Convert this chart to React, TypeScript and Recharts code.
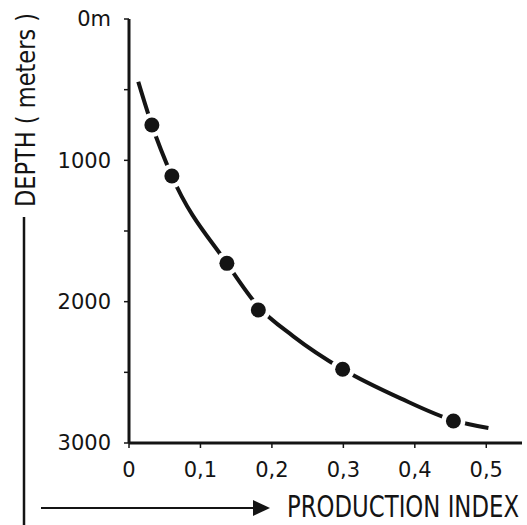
import React from "react";
import { ComposedChart, Line, Scatter, XAxis, YAxis } from "recharts";

// Measured data points (production index vs depth in meters)
const pointIndex = [0.032, 0.06, 0.137, 0.181, 0.299, 0.454];
const pointDepth = [750, 1111, 1729, 2059, 2478, 2844];

// Fitted curve
const curveIndex = [0.013, 0.032, 0.06, 0.137, 0.181, 0.23, 0.299, 0.38, 0.454, 0.503];
const curveDepth = [444, 750, 1111, 1729, 2035, 2245, 2478, 2684, 2840, 2894];

const xTicks = [0, 0.1, 0.2, 0.3, 0.4, 0.5];
const xTickLabels = ["0", "0,1", "0,2", "0,3", "0,4", "0,5"];
const yTicks = [0, 500, 1000, 1500, 2000, 2500, 3000];
const yTickLabels = ["0m", "", "1000", "", "2000", "", "3000"];

const xTitle = "PRODUCTION INDEX";
const yTitle = "DEPTH ( meters )";

const points = pointIndex.map((x, i) => ({ x, y: pointDepth[i] }));
const curve = curveIndex.map((x, i) => ({ x, y: curveDepth[i] }));

const INK = "#141414";
const FONT = "'DejaVu Sans', sans-serif";

const Dot = (props: any) => {
  const { cx, cy } = props;
  if (cx == null || cy == null) return null;
  return (
    <g>
      <circle cx={cx} cy={cy} r={12} fill="#fff" />
      <circle cx={cx} cy={cy} r={7.5} fill={INK} />
    </g>
  );
};

const XTitle = (props: any) => {
  const vb = props.viewBox || { x: 129, y: 443, width: 393, height: 82 };
  const y = vb.y + 65;
  const s = 0.77;
  return (
    <g>
      <line x1={41} y1={y} x2={255} y2={y} stroke={INK} strokeWidth={2} />
      <polygon points={`${253},${y - 8} ${270},${y} ${253},${y + 8}`} fill={INK} />
      <g transform={`translate(287 ${y + 9}) scale(${s} 1)`}>
        <text
          x={0}
          y={0}
          fill={INK}
          fontFamily={FONT}
          fontSize={30}
          textLength={232 / s}
          lengthAdjust="spacingAndGlyphs"
        >
          {xTitle}
        </text>
      </g>
    </g>
  );
};

const YTitle = () => {
  const cx = 35;
  const cy = 110;
  const s = 0.866;
  return (
    <g>
      <g transform={`translate(${cx} ${cy}) rotate(-90) scale(${s} 1)`}>
        <text
          x={0}
          y={0}
          textAnchor="middle"
          fill={INK}
          fontFamily={FONT}
          fontSize={26}
          textLength={194 / s}
          lengthAdjust="spacingAndGlyphs"
        >
          {yTitle}
        </text>
      </g>
      <line x1={24} y1={217} x2={24} y2={525} stroke={INK} strokeWidth={2.5} />
    </g>
  );
};

export default function App() {
  return (
    <div style={{ position: "absolute", left: 0, top: 0, background: "#fff" }}>
      <ComposedChart
        width={527}
        height={525}
        margin={{ top: 19, right: 5, left: 0, bottom: 0 }}
      >
        <XAxis
          type="number"
          dataKey="x"
          domain={[0, 0.55]}
          ticks={xTicks}
          tickFormatter={(v: number) => xTickLabels[xTicks.indexOf(v)] ?? ""}
          height={82}
          allowDataOverflow
          axisLine={{ stroke: INK, strokeWidth: 3 }}
          tickLine={{ stroke: INK, strokeWidth: 1.5 }}
          tickSize={5}
          tickMargin={14}
          tick={{ fill: INK, fontSize: 21, fontFamily: FONT }}
          label={<XTitle />}
        />
        <YAxis
          type="number"
          dataKey="y"
          domain={[0, 3000]}
          reversed
          ticks={yTicks}
          tickFormatter={(v: number) => yTickLabels[yTicks.indexOf(v)] ?? ""}
          width={129}
          allowDataOverflow
          axisLine={{ stroke: INK, strokeWidth: 3 }}
          tickLine={{ stroke: INK, strokeWidth: 1.5 }}
          tickSize={5}
          tickMargin={13}
          tick={{ fill: INK, fontSize: 21, fontFamily: FONT }}
          label={<YTitle />}
        />
        <Line
          data={curve}
          dataKey="y"
          type="monotone"
          stroke={INK}
          strokeWidth={4}
          dot={false}
          activeDot={false}
          isAnimationActive={false}
        />
        <Scatter
          data={points}
          dataKey="y"
          fill={INK}
          shape={<Dot />}
          isAnimationActive={false}
        />
      </ComposedChart>
    </div>
  );
}
